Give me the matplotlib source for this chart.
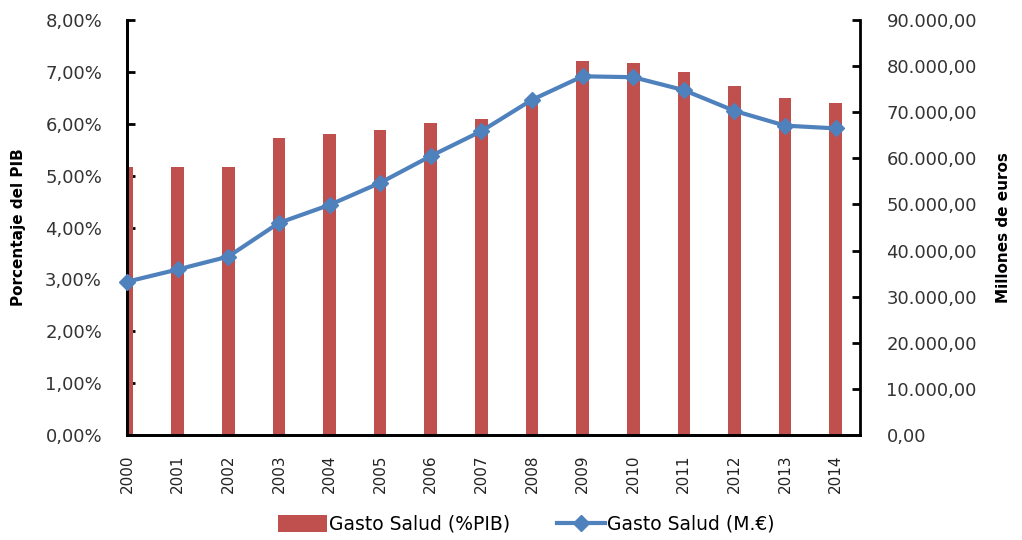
import numpy as np
import matplotlib
matplotlib.use("Agg")
import matplotlib.pyplot as plt
from matplotlib.ticker import FuncFormatter

years = ["2000", "2001", "2002", "2003", "2004", "2005", "2006", "2007",
         "2008", "2009", "2010", "2011", "2012", "2013", "2014"]
gasto_pib = [5.16, 5.16, 5.17, 5.72, 5.80, 5.88, 6.01, 6.09,
             6.45, 7.21, 7.17, 7.00, 6.73, 6.50, 6.40]
gasto_meur = [33250, 35900, 38700, 46000, 49900, 54700, 60500, 65900,
              72700, 77800, 77600, 74800, 70300, 67100, 66500]

bar_color = "#C0504D"
line_color = "#4F81BD"

plt.rcParams["font.family"] = ["DejaVu Sans"]

fig = plt.figure(figsize=(10.22, 5.4), dpi=100)
ax = fig.add_axes([0.1243, 0.1944, 0.7172, 0.7685])
ax2 = ax.twinx()

x = np.arange(len(years))
bars = ax.bar(x, gasto_pib, width=0.25, color=bar_color, label="Gasto Salud (%PIB)", zorder=2)
line, = ax2.plot(x, gasto_meur, color=line_color, lw=3, marker="D", markersize=8,
                 label="Gasto Salud (M.€)", zorder=3, clip_on=False)

ax.set_xlim(0, len(years) - 0.52)
ax.set_ylim(0, 8)
ax2.set_ylim(0, 90000)
ax.set_yticks(np.arange(0, 9, 1))
ax2.set_yticks(np.arange(0, 90001, 10000))

ax.yaxis.set_major_formatter(FuncFormatter(lambda v, p: f"{v:.2f}%".replace(".", ",")))
ax2.yaxis.set_major_formatter(FuncFormatter(
    lambda v, p: f"{v:,.2f}".replace(",", "X").replace(".", ",").replace("X", ".")))

ax.set_xticks(x)
ax.set_xticklabels(years, rotation=90, fontsize=11, color="#222222")
ax.tick_params(axis="x", length=0, pad=14)
ax.tick_params(axis="y", direction="in", length=6, width=2, labelsize=13, labelcolor="#333333", pad=18)
ax2.tick_params(axis="y", direction="in", length=6, width=2, labelsize=13, labelcolor="#333333", pad=19)

for a in (ax, ax2):
    a.spines["top"].set_visible(False)
    for s in ("left", "right", "bottom"):
        a.spines[s].set_linewidth(2)
ax.spines["right"].set_visible(False)

ax.set_ylabel("Porcentaje del PIB", fontsize=11, fontweight="bold", labelpad=14)
ax2.set_ylabel("Millones de euros", fontsize=11, fontweight="bold", labelpad=14)

fig.legend(handles=[bars, line], loc="lower center", bbox_to_anchor=(0.515, -0.02),
           ncol=2, frameon=False, fontsize=13.5, handlelength=2.6, handleheight=1.0,
           columnspacing=2.5, handletextpad=0.1)

fig.savefig("out.png", dpi=100)
